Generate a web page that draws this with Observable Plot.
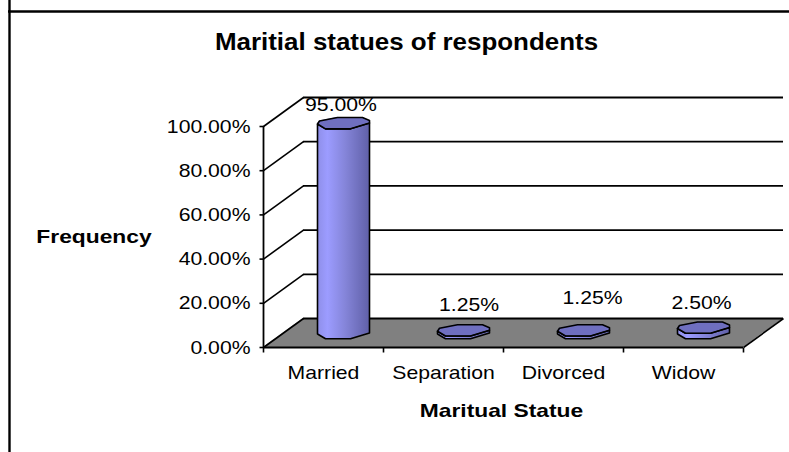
<!DOCTYPE html>
<html><head><meta charset="utf-8">
<script src="https://cdn.jsdelivr.net/npm/d3@7"></script>
<script src="https://cdn.jsdelivr.net/npm/@observablehq/plot@0.6"></script>
<style>html,body{margin:0;padding:0;background:#fff}svg{display:block}</style>
</head><body>
<script>
const categories = ["Married", "Separation", "Divorced", "Widow"];
const frequency = [95, 1.25, 1.25, 2.5];
const valueLabels = ["95.00%", "1.25%", "1.25%", "2.50%"];
const yTicks = [0, 20, 40, 60, 80, 100];
const title = "Maritial statues of respondents";
const xTitle = "Maritual Statue";
const yTitle = "Frequency";

// scale setup: one x unit = one category, one y unit = one percent
const W = 789, H = 452, X0 = 263, Y0 = 347, PX = 120, PY = 2.21;
const xu = p => p / PX, yu = p => p / PY;           // pixel lengths to data units
const depthX = xu(40), depthY = yu(29);             // oblique 3D depth
const n = categories.length;

// octagonal cross-section of the cylinder (pixel offsets around its centre)
const rim = [[-26,1],[-24,-2],[-6,-5.5],[19,-5.5],[26,-2.5],[26,0],[7,5.8],[-18,5.8],[-26,1]].map(([a,b]) => [xu(a), yu(-b)]);
const lower = [[-26,1],[-18,5.8],[7,5.8],[26,0]].map(([a,b]) => [xu(a), yu(-b)]);

const cx = i => i + 0.5 + depthX / 2;
const cy = v => v + depthY / 2;

const capRows = [], bodyRows = [];
frequency.forEach((v, i) => {
  rim.forEach(([a,b]) => capRows.push({i, x: cx(i) + a, y: cy(v) + b, x0: cx(i) + rim[0][0], y0: cy(v) + rim[0][1]}));
  lower.forEach(([a,b]) => bodyRows.push({i, x: cx(i) + a, y1: cy(0) + b, y2: cy(v) + b}));
});
const outline = frequency.flatMap((v, i) => {
  const low = bodyRows.filter(d => d.i === i);
  return [...low.map(d => ({i, x: d.x, y: d.y1})), ...low.slice().reverse().map(d => ({i, x: d.x, y: d.y2})), {i, x: low[0].x, y: low[0].y1}];
});

const wallLines = yTicks.map(v => ({v}));
const floorEdges = [{x1: 0, x2: depthX}, {x1: n, x2: n + depthX}];

// nudges of the value labels away from their cylinder's cap, in pixels
const labelDX = [-2.5, 5.5, 9, -2];
const labelDY = [18.5, 25.7, 32.7, 25];

const regular = {fontFamily: "Liberation Sans, Arial, sans-serif", fill: "#000"};
const bold = {...regular, fontWeight: "bold"};

const chart = Plot.plot({
  width: W, height: H, margin: 0,
  style: {background: "#fff", overflow: "visible"},
  x: {type: "linear", domain: [-X0 / PX, (W - X0) / PX], range: [0, W], axis: null},
  y: {type: "linear", domain: [(Y0 - H) / PY, Y0 / PY], range: [H, 0], axis: null},
  marks: [
    // chart-area border: only the left and top edges fall inside the crop
    Plot.ruleX([-X0 / PX + xu(9)], {stroke: "#000", strokeWidth: 2.4}),
    Plot.ruleY([Y0 / PY - yu(11)], {x1: -X0 / PX + xu(8), x2: (W - X0) / PX, stroke: "#000", strokeWidth: 2.4}),
    // floor
    Plot.area(floorEdges, {x1: "x1", y1: 0, x2: "x2", y2: depthY, fill: "#808080"}),
    // walls: back gridlines and side diagonals
    Plot.ruleY(wallLines, {y: d => d.v + depthY, x1: depthX, x2: n + depthX, stroke: "#000", strokeWidth: 1.8}),
    Plot.link(wallLines, {x1: 0, y1: d => d.v, x2: depthX, y2: d => d.v + depthY, stroke: "#000", strokeWidth: 1.6}),
    Plot.link([n], {x1: d => d, y1: 0, x2: d => d + depthX, y2: depthY, stroke: "#000", strokeWidth: 1.6}),
    // axes
    Plot.ruleX([0], {y1: 0, y2: 100, stroke: "#000", strokeWidth: 1.8}),
    Plot.ruleY([0], {x1: 0, x2: n, stroke: "#000", strokeWidth: 1.8}),
    Plot.link(yTicks, {x1: -xu(4), x2: 0, y1: d => d, y2: d => d, stroke: "#000", strokeWidth: 1.6}),
    Plot.link(d3.range(n + 1), {x1: d => d, x2: d => d, y1: 0, y2: -yu(5), stroke: "#000", strokeWidth: 1.6}),
    Plot.text(yTicks, {x: 0, y: d => d, text: d => d.toFixed(2) + "%", textAnchor: "end", dx: -13, fontSize: 19, ...regular, className: "wide"}),
    Plot.text(categories, {x: (d, i) => i + 0.5, y: -yu(25), text: d => d, fontSize: 19, ...regular, className: "wide"}),
    // cylinders
    Plot.areaY(bodyRows, {x: "x", y1: "y1", y2: "y2", z: "i", fill: "url(#cyl)"}),
    Plot.line(outline, {x: "x", y: "y", z: "i", stroke: "#000", strokeWidth: 1.6}),
    Plot.area(capRows, {x1: "x", y1: "y", x2: "x0", y2: "y0", z: "i", fill: "#6f6fc0"}),
    Plot.line(capRows, {x: "x", y: "y", z: "i", stroke: "#000", strokeWidth: 1.6}),
    // value labels
    Plot.text(frequency, {x: (d, i) => cx(i) + xu(labelDX[i]), y: (d, i) => cy(d) + yu(labelDY[i]), text: (d, i) => valueLabels[i], fontSize: 19, ...regular, className: "wide"}),
    // titles
    Plot.text([title], {x: xu(406 - X0), y: yu(Y0 - 42), text: d => d, fontSize: 24, ...bold, className: "wide-title"}),
    Plot.text([xTitle], {x: xu(501 - X0), y: yu(Y0 - 410), text: d => d, fontSize: 19, ...bold, className: "wide-bold"}),
    Plot.text([yTitle], {x: xu(93.5 - X0), y: yu(Y0 - 236.5), text: d => d, fontSize: 19, ...bold, className: "wide-bold"})
  ]
});

// gradient for the cylinder body
const svg = d3.select(chart);
const grad = svg.insert("defs", ":first-child").append("linearGradient").attr("id", "cyl");
[["0%","#8e8ee8"],["20%","#9c9cff"],["55%","#8484d8"],["100%","#6060a8"]].forEach(([o,c]) =>
  grad.append("stop").attr("offset", o).attr("stop-color", c));
document.body.appendChild(chart);

// the reference's lettering is drawn wider than the font's natural width
function widen(selector, factor) {
  svg.selectAll(selector + " text").each(function () {
    this.setAttribute("textLength", this.getComputedTextLength() * factor);
    this.setAttribute("lengthAdjust", "spacingAndGlyphs");
  });
}
widen(".wide", 1.115);
widen(".wide-title", 1.08);
widen(".wide-bold", 1.2);
</script>
</body></html>
